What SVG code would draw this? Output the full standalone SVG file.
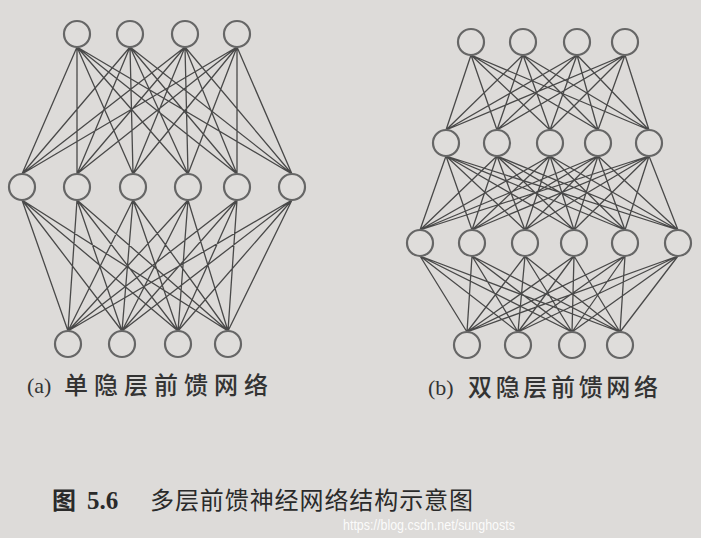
<svg xmlns="http://www.w3.org/2000/svg" width="701" height="538" viewBox="0 0 701 538">
<style>
.n{fill:#dfdddb;stroke:#666;stroke-width:2.2}
.e{fill:none;stroke:#383838;stroke-width:1.3;stroke-opacity:0.9}
.lbl{font-family:"Noto Sans CJK SC","Noto Sans",sans-serif;font-size:24px;font-weight:500;fill:#333}
.par{font-family:"Liberation Serif","DejaVu Serif",serif;font-size:22px;fill:#333}
.cap{font-family:"Noto Sans CJK SC","Noto Sans",sans-serif;font-size:24px;fill:#2a2a2a}
.num{font-family:"Liberation Serif","DejaVu Serif",serif;font-size:25px;font-weight:bold;fill:#2a2a2a}
.wm{font-family:"Liberation Sans",Arial,sans-serif;font-size:14px;fill:#ffffff;fill-opacity:0.9}
</style>
<rect width="701" height="538" fill="#dddbd9"/>
<g id="connectors">
<path class="e" d="M77 47L22 174M77 47L77 174M77 47L133 174M77 47L188 174M77 47L237 174M77 47L292 174
M130 47L22 174M130 47L77 174M130 47L133 174M130 47L188 174M130 47L237 174M130 47L292 174
M185 47L22 174M185 47L77 174M185 47L133 174M185 47L188 174M185 47L237 174M185 47L292 174
M237 47L22 174M237 47L77 174M237 47L133 174M237 47L188 174M237 47L237 174M237 47L292 174"/>
<path class="e" d="M22 200L68 331M22 200L122 331M22 200L178 331M22 200L228 331
M77 200L68 331M77 200L122 331M77 200L178 331M77 200L228 331
M133 200L68 331M133 200L122 331M133 200L178 331M133 200L228 331
M188 200L68 331M188 200L122 331M188 200L178 331M188 200L228 331
M237 200L68 331M237 200L122 331M237 200L178 331M237 200L228 331
M292 200L68 331M292 200L122 331M292 200L178 331M292 200L228 331"/>
<path class="e" d="M471 55L446 130M471 55L497 130M471 55L550 130M471 55L598 130M471 55L649 130
M523 55L446 130M523 55L497 130M523 55L550 130M523 55L598 130M523 55L649 130
M577 55L446 130M577 55L497 130M577 55L550 130M577 55L598 130M577 55L649 130
M625 55L446 130M625 55L497 130M625 55L550 130M625 55L598 130M625 55L649 130"/>
<path class="e" d="M446 156L420 230M446 156L472 230M446 156L525 230M446 156L574 230M446 156L625 230M446 156L678 230
M497 156L420 230M497 156L472 230M497 156L525 230M497 156L574 230M497 156L625 230M497 156L678 230
M550 156L420 230M550 156L472 230M550 156L525 230M550 156L574 230M550 156L625 230M550 156L678 230
M598 156L420 230M598 156L472 230M598 156L525 230M598 156L574 230M598 156L625 230M598 156L678 230
M649 156L420 230M649 156L472 230M649 156L525 230M649 156L574 230M649 156L625 230M649 156L678 230"/>
<path class="e" d="M420 256L467 332M420 256L518 332M420 256L572 332M420 256L620 332
M472 256L467 332M472 256L518 332M472 256L572 332M472 256L620 332
M525 256L467 332M525 256L518 332M525 256L572 332M525 256L620 332
M574 256L467 332M574 256L518 332M574 256L572 332M574 256L620 332
M625 256L467 332M625 256L518 332M625 256L572 332M625 256L620 332
M678 256L467 332M678 256L518 332M678 256L572 332M678 256L620 332"/>
</g>
<g id="a-out1"><circle class="n" cx="77" cy="34" r="13"/></g>
<g id="a-out2"><circle class="n" cx="130" cy="34" r="13"/></g>
<g id="a-out3"><circle class="n" cx="185" cy="34" r="13"/></g>
<g id="a-out4"><circle class="n" cx="237" cy="34" r="13"/></g>
<g id="a-hid1"><circle class="n" cx="22" cy="187" r="13"/></g>
<g id="a-hid2"><circle class="n" cx="77" cy="187" r="13"/></g>
<g id="a-hid3"><circle class="n" cx="133" cy="187" r="13"/></g>
<g id="a-hid4"><circle class="n" cx="188" cy="187" r="13"/></g>
<g id="a-hid5"><circle class="n" cx="237" cy="187" r="13"/></g>
<g id="a-hid6"><circle class="n" cx="292" cy="187" r="13"/></g>
<g id="a-in1"><circle class="n" cx="68" cy="344" r="13"/></g>
<g id="a-in2"><circle class="n" cx="122" cy="344" r="13"/></g>
<g id="a-in3"><circle class="n" cx="178" cy="344" r="13"/></g>
<g id="a-in4"><circle class="n" cx="228" cy="344" r="13"/></g>
<g id="b-out1"><circle class="n" cx="471" cy="42" r="13"/></g>
<g id="b-out2"><circle class="n" cx="523" cy="42" r="13"/></g>
<g id="b-out3"><circle class="n" cx="577" cy="42" r="13"/></g>
<g id="b-out4"><circle class="n" cx="625" cy="42" r="13"/></g>
<g id="b-h2-1"><circle class="n" cx="446" cy="143" r="13"/></g>
<g id="b-h2-2"><circle class="n" cx="497" cy="143" r="13"/></g>
<g id="b-h2-3"><circle class="n" cx="550" cy="143" r="13"/></g>
<g id="b-h2-4"><circle class="n" cx="598" cy="143" r="13"/></g>
<g id="b-h2-5"><circle class="n" cx="649" cy="143" r="13"/></g>
<g id="b-h1-1"><circle class="n" cx="420" cy="243" r="13"/></g>
<g id="b-h1-2"><circle class="n" cx="472" cy="243" r="13"/></g>
<g id="b-h1-3"><circle class="n" cx="525" cy="243" r="13"/></g>
<g id="b-h1-4"><circle class="n" cx="574" cy="243" r="13"/></g>
<g id="b-h1-5"><circle class="n" cx="625" cy="243" r="13"/></g>
<g id="b-h1-6"><circle class="n" cx="678" cy="243" r="13"/></g>
<g id="b-in1"><circle class="n" cx="467" cy="345" r="13"/></g>
<g id="b-in2"><circle class="n" cx="518" cy="345" r="13"/></g>
<g id="b-in3"><circle class="n" cx="572" cy="345" r="13"/></g>
<g id="b-in4"><circle class="n" cx="620" cy="345" r="13"/></g>
<g id="labels">
<text class="par" x="27" y="393">(a)</text>
<text class="lbl" x="64" y="394" textLength="204" lengthAdjust="spacing">单隐层前馈网络</text>
<text class="par" x="428" y="395">(b)</text>
<text class="lbl" x="468" y="396" textLength="190" lengthAdjust="spacing">双隐层前馈网络</text>
<text class="cap" x="52" y="509" font-weight="bold">图</text>
<text class="num" x="87" y="509">5.6</text>
<text class="cap" x="150" y="509" textLength="323" lengthAdjust="spacing">多层前馈神经网络结构示意图</text>
<text class="wm" x="343" y="530" textLength="172" lengthAdjust="spacingAndGlyphs">https://blog.csdn.net/sunghosts</text>
</g>
</svg>
